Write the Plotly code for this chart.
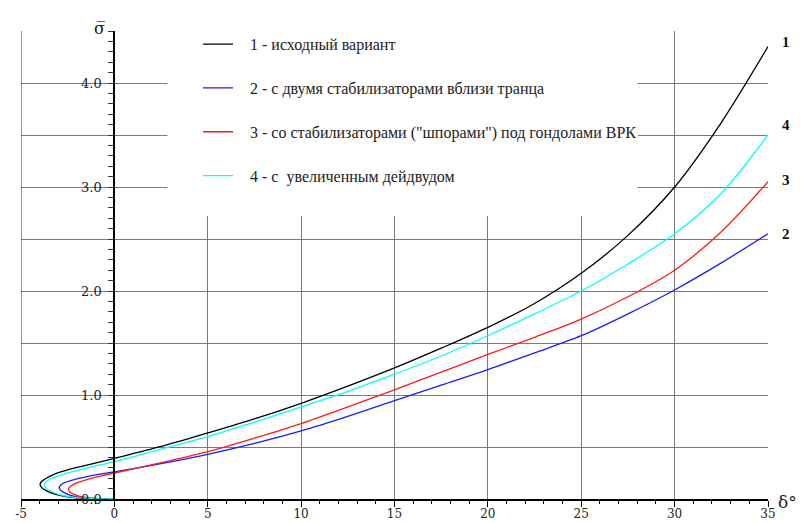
import plotly.graph_objects as go

# ---- data ----
delta_1 = [0, -1.2, -2.4, -3.15, -3.65, -3.9, -3.98, -3.9, -3.65, -3.2, -2.5, -1.3, 0,
           2.5, 5, 7.5, 10, 12.5, 15, 17.5, 20, 22.5, 25, 27.5, 30, 32.5, 35]
sigma_1 = [0, 0.004, 0.018, 0.045, 0.08, 0.112, 0.14, 0.168, 0.2, 0.24, 0.28, 0.332, 0.39,
           0.505, 0.635, 0.77, 0.92, 1.085, 1.26, 1.45, 1.65, 1.88, 2.17, 2.535, 3.0, 3.62, 4.35]

delta_2 = [0, -0.85, -1.75, -2.35, -2.72, -2.9, -2.95, -2.88, -2.68, -2.3, -1.7, -0.85, 0,
           2.5, 5, 7.5, 10, 12.5, 15, 17.5, 20, 22.5, 25, 27.5, 30, 32.5, 35]
sigma_2 = [0, 0.003, 0.014, 0.036, 0.064, 0.088, 0.11, 0.132, 0.156, 0.18, 0.206, 0.236, 0.26,
           0.34, 0.43, 0.535, 0.655, 0.795, 0.945, 1.095, 1.245, 1.405, 1.57, 1.78, 2.01, 2.27, 2.55]

delta_3 = [0, -0.7, -1.45, -1.95, -2.27, -2.41, -2.45, -2.39, -2.2, -1.85, -1.3, -0.65, 0,
           2.5, 5, 7.5, 10, 12.5, 15, 17.5, 20, 22.5, 25, 27.5, 30, 32.5, 35]
sigma_3 = [0, 0.003, 0.012, 0.03, 0.054, 0.074, 0.093, 0.115, 0.14, 0.165, 0.195, 0.224, 0.25,
           0.35, 0.455, 0.585, 0.725, 0.885, 1.05, 1.22, 1.39, 1.555, 1.73, 1.945, 2.2, 2.57, 3.05]

delta_4 = [0, -1.1, -2.25, -2.95, -3.45, -3.68, -3.75, -3.67, -3.43, -3.0, -2.35, -1.2, 0,
           2.5, 5, 7.5, 10, 12.5, 15, 17.5, 20, 22.5, 25, 27.5, 30, 32.5, 35]
sigma_4 = [0, 0.004, 0.017, 0.043, 0.077, 0.107, 0.135, 0.162, 0.192, 0.222, 0.258, 0.31, 0.36,
           0.48, 0.6, 0.74, 0.885, 1.035, 1.2, 1.375, 1.57, 1.78, 2.0, 2.26, 2.55, 2.94, 3.5]

legend_names = [
    "1 - исходный вариант",
    "2 - с двумя стабилизаторами вблизи транца",
    "3 - со стабилизаторами (\"шпорами\") под гондолами ВРК",
    "4 - с  увеличенным дейдвудом",
]
end_labels = ["1", "2", "3", "4"]

y_tick_vals = [0, 0.5, 1, 1.5, 2, 2.5, 3, 3.5, 4, 4.5]
y_tick_text = ["0.0", "", "1.0", "", "2.0", "", "3.0", "", "4.0", ""]
x_tick_vals = [-5, 0, 5, 10, 15, 20, 25, 30, 35]
x_tick_text = ["-5", "0", "5", "10", "15", "20", "25", "30", "35"]

series = [
    (delta_1, sigma_1, "#000000"),
    (delta_2, sigma_2, "#1a1aff"),
    (delta_3, sigma_3, "#ff1a1a"),
    (delta_4, sigma_4, "#00ffff"),
]

fig = go.Figure()
for i, (dx, sy, col) in enumerate(series):
    fig.add_trace(go.Scatter(
        x=dx, y=sy, mode="lines", name="   " + legend_names[i],
        legendgroup=f"g{i}",
        line=dict(color=col, width=1.3, shape="spline", smoothing=0.9),
    ))

grid_col = "#7a7a7a"

# left frame line at x = -5 (grid line hidden by plotly at the edge)
fig.add_shape(type="line", xref="x", yref="y", x0=x_tick_vals[0], x1=x_tick_vals[0],
              y0=y_tick_vals[0], y1=y_tick_vals[-1], line=dict(color="#555", width=1.2),
              layer="between")

# white area behind legend (covers grid lines there)
fig.add_shape(type="rect", xref="x", yref="y", x0=2.84, x1=28.03, y0=2.72, y1=4.6,
              fillcolor="white", line=dict(width=0), layer="between")

# end-of-curve labels
label_shift = {"1": 5, "2": 0, "3": 2, "4": 10}
for i, (dx, sy, col) in enumerate(series):
    lab = end_labels[i]
    fig.add_annotation(x=dx[-1], y=sy[-1], xref="x", yref="y", text=f"<b>{lab}</b>",
                       showarrow=False, xshift=18, yshift=label_shift[lab],
                       font=dict(family="Liberation Serif", size=15, color="#111"))

# axis titles
fig.add_annotation(x=0, y=1.0, xref="x", yref="paper", text="σ\u0305", showarrow=False,
                   xshift=-15, yshift=14, font=dict(family="DejaVu Serif", size=16, color="#222"))
fig.add_annotation(x=1.0, y=0, xref="paper", yref="y", text="δ°", showarrow=False,
                   xshift=31, yshift=-3, font=dict(family="DejaVu Serif", size=17, color="#222"))

# page body has an 8px margin: figure is sized/offset so the plot lands where the reference has it
fig.update_layout(
    width=802, height=515,
    margin=dict(l=13, r=42, t=23, b=24, autoexpand=False),
    plot_bgcolor="white", paper_bgcolor="white",
    showlegend=True,
    legend=dict(x=0.237, y=1.008, xanchor="left", yanchor="top",
                bgcolor="rgba(0,0,0,0)", tracegroupgap=20,
                font=dict(family="Liberation Serif", size=16, color="#222")),
    xaxis=dict(range=[-5, 35], tickvals=x_tick_vals, ticktext=x_tick_text,
               automargin=False,
               showgrid=True, gridcolor=grid_col, gridwidth=1,
               zeroline=False, showline=True, linecolor="black", linewidth=2,
               ticks="outside", ticklen=6, tickcolor="black", tickwidth=1,
               minor=dict(dtick=1, ticks="outside", ticklen=3, tickcolor="black", showgrid=False),
               ticklabelstandoff=-3,
               tickfont=dict(family="DejaVu Serif", size=12, color="#222")),
    yaxis=dict(range=[0, 4.5], tickvals=y_tick_vals, ticktext=y_tick_text,
               anchor="free", position=0.125, automargin=False,
               showgrid=True, gridcolor=grid_col, gridwidth=1,
               zeroline=False, showline=True, linecolor="black", linewidth=2,
               ticks="outside", ticklen=5, tickcolor="#333", tickwidth=1,
               minor=dict(dtick=0.1, ticks="outside", ticklen=5, tickcolor="#333", showgrid=False),
               ticklabelstandoff=4,
               tickfont=dict(family="DejaVu Serif", size=13, color="#222")),
)

fig.write_html("out.html")
